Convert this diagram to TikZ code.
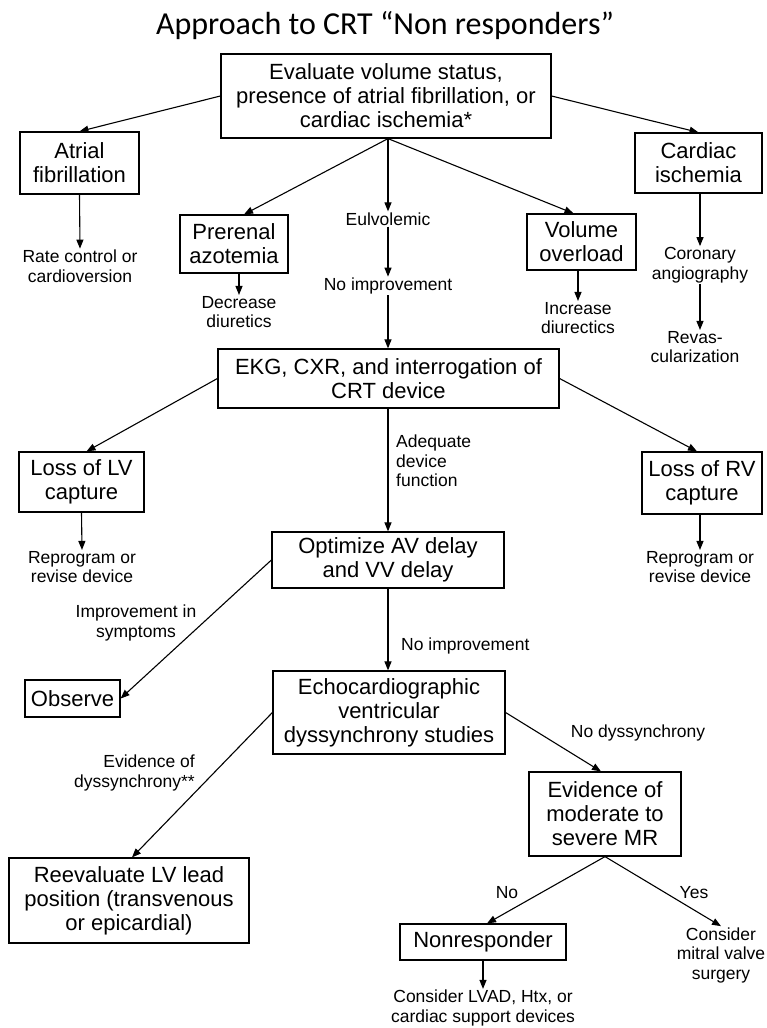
\documentclass[tikz,border=0pt]{standalone}
\usepackage{fontspec}
\setmainfont{Liberation Sans}
\newfontfamily\titlefont{Carlito}
\usetikzlibrary{arrows.meta,calc}

\begin{document}
\begin{tikzpicture}[x=1pt,y=-1pt,
  box/.style={draw, line width=1.2pt, align=center, inner sep=0pt,
              font=\fontsize{22}{24}\selectfont},
  lbl/.style={align=center, inner sep=1pt,
              font=\fontsize{17.5}{19.5}\selectfont},
  arr/.style={line width=1.1pt, -{Triangle[length=9pt,width=7pt]}}]

\useasboundingbox (0,0) rectangle (766,1028);

% heading
\node[anchor=base, inner sep=0pt, font=\titlefont\fontsize{32}{36}\selectfont]
  (title) at (385,34) {Approach to CRT “Non responders”};

% first tier
\node[box, minimum width=330, minimum height=84] (top) at (386,96)
  {Evaluate volume status,\\presence of atrial fibrillation, or\\cardiac ischemia*};
\node[box, minimum width=119, minimum height=62] (atrial) at (79.5,163)
  {Atrial\\fibrillation};
\node[box, minimum width=127, minimum height=60] (cardiac) at (698.5,163)
  {Cardiac\\ischemia};
\node[box, minimum width=108, minimum height=58] (prerenal) at (234,244)
  {Prerenal\\azotemia};
\node[box, minimum width=109, minimum height=56] (volume) at (581.5,242)
  {Volume\\overload};

\node[lbl] (eul) at (388,219) {Eulvolemic};
\node[lbl] (noimpA) at (388,286) {No improvement};
\node[lbl] (rate) at (80,266) {Rate control or\\cardioversion};
\node[lbl] (decrease) at (239,312) {Decrease\\diuretics};
\node[lbl] (increase) at (578,318) {Increase\\diurectics};
\node[lbl] (coronary) at (700,265) {Coronary\\angiography};
\node[lbl] (revas) at (695,347) {Revas-\\cularization};

% device check
\node[box, minimum width=341, minimum height=59] (ekg) at (388.5,378.5)
  {EKG, CXR, and interrogation of\\CRT device};
\node[box, minimum width=125, minimum height=60] (lossLV) at (81.5,482)
  {Loss of LV\\capture};
\node[box, minimum width=120, minimum height=62] (lossRV) at (702,483)
  {Loss of RV\\capture};
\node[lbl, anchor=west, align=left] (adequate) at (395,461)
  {Adequate\\device\\function};
\node[lbl] (reprogL) at (82,567) {Reprogram or\\revise device};
\node[lbl] (reprogR) at (700,567) {Reprogram or\\revise device};

% optimisation
\node[box, minimum width=232, minimum height=56] (opt) at (388,560)
  {Optimize AV delay\\and VV delay};
\node[lbl] (improv) at (136,623) {Improvement in\\symptoms};
\node[lbl, anchor=west] (noimpB) at (400,646) {No improvement};
\node[box, minimum width=95, minimum height=37] (observe) at (72.5,698.5)
  {Observe};

% dyssynchrony work-up
\node[box, minimum width=232, minimum height=83] (echo) at (389,712.5)
  {Echocardiographic\\ventricular\\dyssynchrony studies};
\node[lbl] (nodyss) at (638,733) {No dyssynchrony};
\node[lbl, anchor=east, align=right] (evid) at (196,773)
  {Evidence of\\dyssynchrony**};
\node[box, minimum width=152, minimum height=84] (mr) at (605,814)
  {Evidence of\\moderate to\\severe MR};
\node[box, minimum width=240, minimum height=85] (reeval) at (129,900.5)
  {Reevaluate LV lead\\position (transvenous\\or epicardial)};
\node[lbl] (no) at (507,893) {No};
\node[lbl] (yes) at (694,893) {Yes};
\node[box, minimum width=166, minimum height=36] (nonresp) at (483,942)
  {Nonresponder};
\node[lbl] (lvad) at (483,1008) {Consider LVAD, Htx, or\\cardiac support devices};
\node[lbl] (mitral) at (721,955) {Consider\\mitral valve\\surgery};

% connectors
\draw[arr] (top.west) -- (atrial.north);
\draw[arr] (top.east) -- (cardiac.north);
\draw[arr] (eul.north |- top.south) -- ($(prerenal.north)+(10,0)$);
\draw[arr] (eul.north |- top.south) -- ($(volume.north)+(-8,0)$);
\draw[arr] (eul.north |- top.south) -- (eul.north);
\draw[arr] (eul.south) -- (noimpA.north);
\draw[arr] (noimpA.south) -- (noimpA.south |- ekg.north);
\draw[arr] (atrial.south) -- (rate.north);
\draw[arr] (decrease.north |- prerenal.south) -- (decrease.north);
\draw[arr] (increase.north |- volume.south) -- (increase.north);
\draw[arr] (coronary.north |- cardiac.south) -- (coronary.north);
\draw[arr] (coronary.south) -- (coronary.south |- revas.north);

\draw[arr] (ekg.west) -- ($(lossLV.north)+(5,0)$);
\draw[arr] (ekg.east) -- ($(lossRV.north)+(-5,0)$);
\draw[arr] (opt.north |- ekg.south) -- (opt.north);
\draw[arr] (lossLV.south) -- (reprogL.north);
\draw[arr] (reprogR.north |- lossRV.south) -- (reprogR.north);

\draw[arr] (opt.west) -- (observe.east);
\draw[arr] (opt.south) -- (opt.south |- echo.north);

\draw[arr] (echo.west) -- ($(reeval.north)+(3,0)$);
\draw[arr] (echo.east) -- ($(mr.north)+(-4,0)$);
\draw[arr] (mr.south) -- ($(nonresp.north)+(4,0)$);
\draw[arr] (mr.south) -- (mitral.north);
\draw[arr] (nonresp.south) -- (lvad.north);

\end{tikzpicture}
\end{document}
